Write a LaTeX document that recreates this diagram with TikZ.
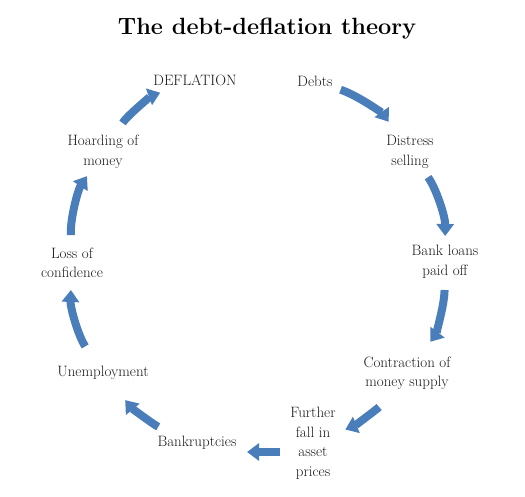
\documentclass[tikz,border=0pt]{standalone}
\usetikzlibrary{arrows.meta, positioning}
\definecolor{cblue}{HTML}{4A7EBB}
\definecolor{ctext}{HTML}{1A1A1A}
\tikzset{
  every picture/.style={x=1pt, y=1pt},
  stage/.style={font=\fontsize{15}{19.5}\selectfont, text=ctext, align=center, inner sep=0pt},
  heading/.style={font=\fontsize{23.5}{28}\selectfont\bfseries, text=black},
  flow/.style={-{Triangle[width=17pt, length=12pt]}, draw=cblue, line width=8pt},
}

\begin{document}
\begin{tikzpicture}
  \useasboundingbox (0,0) rectangle (525,-496);
  \node[heading] (title) at (267,-29) {The debt-deflation theory};
  \node[stage] (deflation) at (195,-80) {DEFLATION};
  \node[stage] (debts) at (315,-81) {Debts};
  \node[stage] (distress) at (410,-152) {Distress\\selling};
  \node[stage] (loans) at (445,-262) {Bank loans\\paid off};
  \node[stage] (contraction) at (407,-373) {Contraction of\\money supply};
  \node[stage] (fall) at (313,-443) {Further\\fall in\\asset\\prices};
  \node[stage] (bankrupt) at (197,-443) {Bankruptcies};
  \node[stage] (unemploy) at (103,-373) {Unemployment};
  \node[stage] (confidence) at (72,-263) {Loss of\\confidence};
  \node[stage] (hoarding) at (103,-152) {Hoarding of\\money};
  \draw[flow, shorten <=27pt, shorten >=37pt] (debts.center) to[bend left=18] (distress.center);
  \draw[flow, shorten <=31pt, shorten >=26pt] (distress.center) to[bend left=18] (loans.center);
  \draw[flow, shorten <=28pt, shorten >=39pt] (loans.center) to[bend left=18] (contraction.center);
  \draw[flow, shorten <=44pt, shorten >=35pt] (contraction.center) to[bend left=14] (fall.center);
  \draw[flow, shorten <=33pt, shorten >=50pt] ([yshift=-9pt]fall.center) -- ([yshift=-9pt]bankrupt.center);
  \draw[flow, shorten <=42pt, shorten >=35pt] (bankrupt.center) to[bend left=14] (unemploy.center);
  \draw[flow, shorten <=32pt, shorten >=27pt] (unemploy.center) to[bend left=18] (confidence.center);
  \draw[flow, shorten <=28pt, shorten >=29pt] (confidence.center) to[bend left=18] (hoarding.center);
  \draw[flow, shorten <=35pt, shorten >=37pt] (hoarding.center) to[bend left=18] (deflation.center);
\end{tikzpicture}
\end{document}
